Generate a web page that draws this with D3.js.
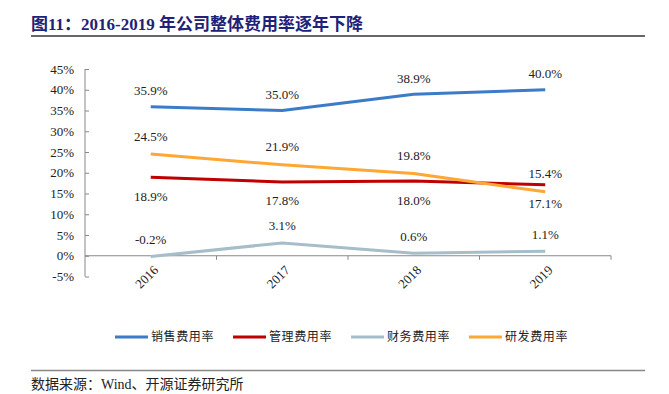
<!DOCTYPE html>
<html>
<head>
<meta charset="utf-8">
<script src="https://cdn.jsdelivr.net/npm/d3@7"></script>
<style>
  body { margin: 0; background: #fff; }
</style>
</head>
<body>
<div id="chart"></div>
<script>
var years = ["2016", "2017", "2018", "2019"];
var sales = [35.9, 35.0, 38.9, 40.0];
var admin = [18.9, 17.8, 18.0, 17.1];
var finance = [-0.2, 3.1, 0.6, 1.1];
var rnd = [24.5, 21.9, 19.8, 15.4];
var yTicks = [-5, 0, 5, 10, 15, 20, 25, 30, 35, 40, 45];

var seriesList = [
  {name: "销售费用率", values: sales, color: "#3c7bc8", dy: -16},
  {name: "管理费用率", values: admin, color: "#c00000", dy: 19},
  {name: "财务费用率", values: finance, color: "#a6bdca", dy: -17},
  {name: "研发费用率", values: rnd, color: "#ffa733", dy: -18}
];

var w = 669, h = 394;
var svg = d3.select("#chart").append("svg").attr("width", w).attr("height", h);

var serif = "'Liberation Serif', 'Times New Roman', serif";
var cjk = "'Noto Sans CJK SC', sans-serif";

// title
svg.append("text")
  .attr("x", 31).attr("y", 30)
  .attr("font-family", serif + ", 'Noto Sans CJK SC'")
  .attr("font-weight", "bold")
  .attr("font-size", "17px")
  .attr("fill", "#1f2278")
  .text("图11：2016-2019 年公司整体费用率逐年下降");
svg.append("line")
  .attr("x1", 31).attr("x2", 645).attr("y1", 36).attr("y2", 36)
  .attr("stroke", "#333").attr("stroke-width", 1.5);

// scales
var x = d3.scaleBand().domain(years).range([85, 611]);
var y = d3.scaleLinear().domain([-5, 45]).range([276.5, 69]);
var cx = function(d) { return x(d) + x.bandwidth() / 2; };

// y axis
var yAxis = svg.append("g")
  .attr("transform", "translate(85,0)")
  .call(d3.axisLeft(y).tickValues(yTicks).tickSize(-4).tickPadding(11)
    .tickFormat(function(d) { return d + "%"; }));
yAxis.select(".domain").attr("stroke", "#888").attr("d", "M0," + y(-5) + "V" + y(45));
yAxis.selectAll(".tick line").attr("stroke", "#888");
yAxis.selectAll("text")
  .attr("font-family", serif).attr("font-size", "13px").attr("fill", "#222");

// x axis at zero
var xAxis = svg.append("g")
  .attr("transform", "translate(0," + y(0) + ")")
  .call(d3.axisBottom(x).tickSize(0).tickFormat(""));
xAxis.select(".domain").attr("stroke", "#888").attr("d", "M85,0H611");
xAxis.selectAll(".tick").remove();

// boundary ticks between categories
svg.selectAll(".xb")
  .data(years.slice(1).concat(["end"]))
  .enter().append("line")
  .attr("x1", function(d, i) { return d == "end" ? 611 : x(d); })
  .attr("x2", function(d, i) { return d == "end" ? 611 : x(d); })
  .attr("y1", y(0)).attr("y2", y(0) + 4)
  .attr("stroke", "#888");

// x labels, rotated
svg.selectAll(".xl")
  .data(years)
  .enter().append("text")
  .attr("transform", function(d) { return "translate(" + (cx(d) + 5) + "," + (y(0) + 12) + ") rotate(-45)"; })
  .attr("text-anchor", "end")
  .attr("dy", "0.35em")
  .attr("font-family", serif).attr("font-size", "13px").attr("fill", "#222")
  .text(function(d) { return d; });

// lines
var line = d3.line()
  .x(function(d, i) { return cx(years[i]); })
  .y(function(d) { return y(d); });

seriesList.forEach(function(s) {
  svg.append("path")
    .datum(s.values)
    .attr("d", line)
    .attr("fill", "none")
    .attr("stroke", s.color)
    .attr("stroke-width", 3)
    .attr("stroke-linejoin", "round");
});

// data labels
seriesList.forEach(function(s) {
  svg.selectAll(null)
    .data(s.values)
    .enter().append("text")
    .attr("x", function(d, i) { return cx(years[i]); })
    .attr("y", function(d) { return y(d) + s.dy; })
    .attr("dy", "0.35em")
    .attr("text-anchor", "middle")
    .attr("font-family", serif).attr("font-size", "13px").attr("fill", "#222")
    .text(function(d) { return d.toFixed(1) + "%"; });
});

// legend
var legend = svg.selectAll(".lg")
  .data(seriesList)
  .enter().append("g")
  .attr("transform", function(d, i) { return "translate(" + (115 + i * 118) + ",337)"; });
legend.append("line")
  .attr("x1", 0).attr("x2", 33).attr("y1", 0).attr("y2", 0)
  .attr("stroke", function(d) { return d.color; })
  .attr("stroke-width", 3);
legend.append("text")
  .attr("x", 36).attr("dy", "0.35em")
  .attr("font-family", cjk).attr("font-size", "12px")
  .attr("letter-spacing", "0.6px").attr("fill", "#222")
  .text(function(d) { return d.name; });

// source
svg.append("line")
  .attr("x1", 31).attr("x2", 645).attr("y1", 370.5).attr("y2", 370.5)
  .attr("stroke", "#888").attr("stroke-width", 1.5);
svg.append("text")
  .attr("x", 31).attr("y", 389)
  .attr("font-family", serif + ", 'Noto Sans CJK SC'")
  .attr("font-size", "14px").attr("fill", "#222")
  .text("数据来源：Wind、开源证券研究所");
</script>
</body>
</html>
